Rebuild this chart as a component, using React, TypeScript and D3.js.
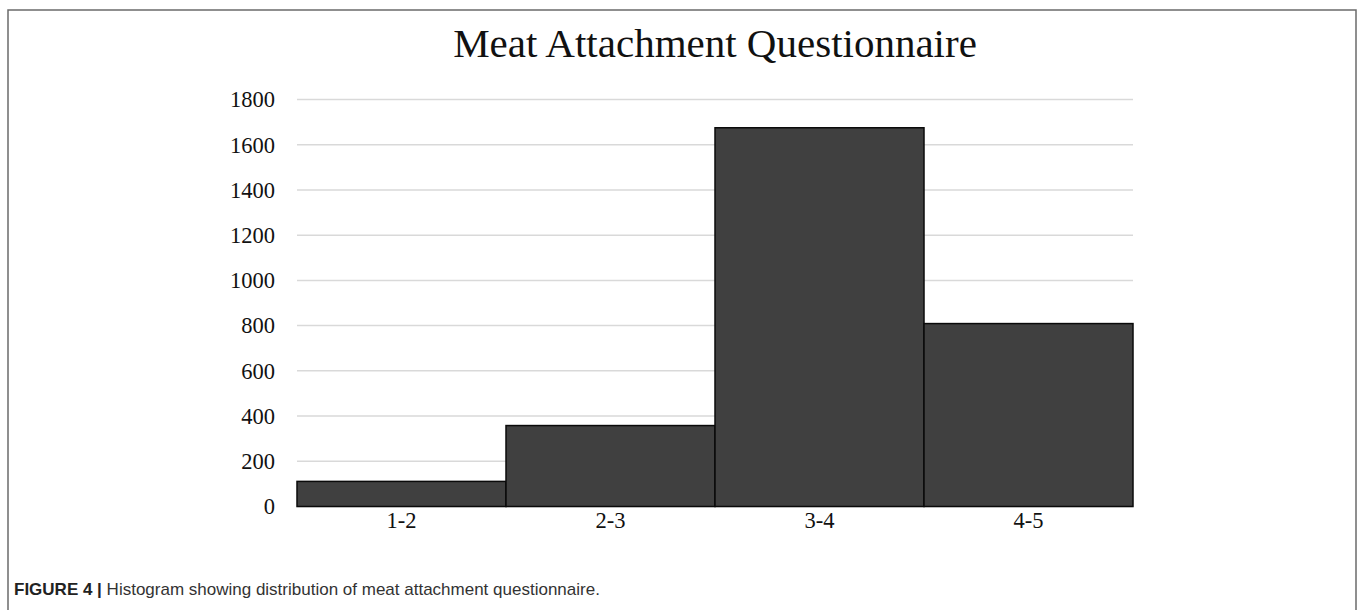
import React, { useEffect, useRef } from 'react';
import * as d3 from 'd3';

const bins = ['1-2', '2-3', '3-4', '4-5'];
const counts = [111, 358, 1675, 809];
const yTicks = [0, 200, 400, 600, 800, 1000, 1200, 1400, 1600, 1800];

const W = 1358;
const H = 610;

export default function App() {
  const svgRef = useRef<SVGSVGElement>(null);

  useEffect(() => {
    if (!svgRef.current) return;
    const svg = d3.select(svgRef.current);
    svg.selectAll('*').remove();

    const margin = { top: 99.5, right: 225, bottom: 103.5, left: 297 };

    const x = d3.scaleBand()
      .domain(bins)
      .range([margin.left, W - margin.right])
      .padding(0);

    const y = d3.scaleLinear()
      .domain([0, 1800])
      .range([H - margin.bottom, margin.top]);

    // outer frame (open at the bottom)
    svg.append('path')
      .attr('d', `M8,${H} V10 H1356 V${H}`)
      .attr('fill', 'none')
      .attr('stroke', '#6b6b6b')
      .attr('stroke-width', 1.5);

    // title
    svg.append('text')
      .attr('x', (margin.left + W - margin.right) / 2)
      .attr('y', 57)
      .attr('text-anchor', 'middle')
      .attr('font-family', '"Liberation Serif", "Times New Roman", serif')
      .attr('font-size', 41)
      .attr('fill', '#111')
      .text('Meat Attachment Questionnaire');

    // gridlines
    svg.append('g')
      .selectAll('line')
      .data(yTicks)
      .enter()
      .append('line')
      .attr('x1', margin.left)
      .attr('x2', W - margin.right)
      .attr('y1', d => y(d))
      .attr('y2', d => y(d))
      .attr('stroke', '#d9d9d9')
      .attr('stroke-width', 1.5);

    // y axis labels
    svg.append('g')
      .selectAll('text')
      .data(yTicks)
      .enter()
      .append('text')
      .attr('x', 275)
      .attr('y', d => y(d))
      .attr('dy', '0.35em')
      .attr('text-anchor', 'end')
      .attr('font-family', '"Liberation Serif", "Times New Roman", serif')
      .attr('font-size', 22.5)
      .attr('fill', '#111')
      .text(d => d);

    // bars
    svg.append('g')
      .selectAll('rect')
      .data(bins)
      .enter()
      .append('rect')
      .attr('x', d => x(d)!)
      .attr('y', (d, i) => y(counts[i]))
      .attr('width', x.bandwidth())
      .attr('height', (d, i) => y(0) - y(counts[i]))
      .attr('fill', '#404040')
      .attr('stroke', '#0a0a0a')
      .attr('stroke-width', 1.5);

    // x labels
    svg.append('g')
      .selectAll('text')
      .data(bins)
      .enter()
      .append('text')
      .attr('x', d => x(d)! + x.bandwidth() / 2)
      .attr('y', 528)
      .attr('text-anchor', 'middle')
      .attr('font-family', '"Liberation Serif", "Times New Roman", serif')
      .attr('font-size', 22.5)
      .attr('fill', '#111')
      .text(d => d);

    // caption
    const cap = svg.append('text')
      .attr('x', 14)
      .attr('y', 595)
      .attr('font-family', '"Liberation Sans", Arial, sans-serif')
      .attr('font-size', 17)
      .attr('fill', '#333');
    cap.append('tspan').attr('font-weight', 'bold').attr('fill', '#222').text('FIGURE 4 | ');
    cap.append('tspan').text('Histogram showing distribution of meat attachment questionnaire.');
  }, []);

  return (
    <svg
      ref={svgRef}
      width={W}
      height={H}
      style={{ position: 'fixed', top: 0, left: 0, background: '#fff' }}
    />
  );
}
